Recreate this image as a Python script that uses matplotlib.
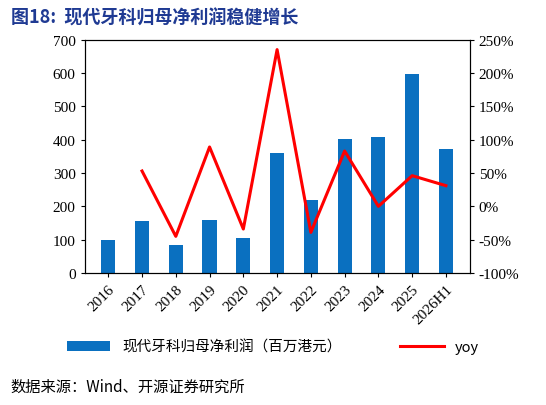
import matplotlib
matplotlib.use('Agg')
import matplotlib.pyplot as plt
from matplotlib.ticker import FuncFormatter

plt.rcParams['font.family'] = ['Times New Roman', 'Liberation Serif', 'Noto Sans CJK SC', 'DejaVu Sans']

years = ['2016', '2017', '2018', '2019', '2020', '2021', '2022', '2023', '2024', '2025', '2026H1']
profit = [100, 155, 85, 160, 105, 360, 220, 403, 407, 597, 373]
yoy = [None, 53, -45, 89, -34, 235, -39, 83, 0, 46, 31]

fig = plt.figure(figsize=(5.46, 4.06), dpi=100)
ax = fig.add_axes([0.155, 0.325, 0.705, 0.575])
x = list(range(len(years)))
bars = ax.bar(x, profit, width=0.42, color='#0A70C0', label='现代牙科归母净利润（百万港元）')
ax.set_ylim(0, 700)
ax.set_yticks(range(0, 701, 100))
ax.set_xlim(-0.7, len(years) - 0.3)
ax.set_xticks(x)
ax.set_xticklabels(years, rotation=45, ha='right', rotation_mode='anchor')
ax.tick_params(labelsize=11, length=3)

ax2 = ax.twinx()
xy = [i for i, v in zip(x, yoy) if v is not None]
vy = [v for v in yoy if v is not None]
line, = ax2.plot(xy, vy, color='#FF0000', lw=2.2, label='yoy')
ax2.set_ylim(-100, 250)
ax2.set_yticks(range(-100, 251, 50))
ax2.yaxis.set_major_formatter(FuncFormatter(lambda v, p: f'{int(v)}%'))
ax2.tick_params(labelsize=11, length=3)

fig.legend([bars, line], ['现代牙科归母净利润（百万港元）', 'yoy'], loc='center',
           bbox_to_anchor=(0.5, 0.143), ncol=2, frameon=False,
           prop={'family': ['Noto Sans CJK SC'], 'size': 10.5}, columnspacing=4,
           handlelength=3)

fig.text(0.02, 0.955, '图18:  现代牙科归母净利润稳健增长', fontsize=13, fontweight='bold',
         color='#1F3A93', family=['Noto Sans CJK SC'], va='center')
fig.text(0.02, 0.045, '数据来源：Wind、开源证券研究所', fontsize=11,
         family=['Noto Sans CJK SC'], va='center')

fig.savefig('out.png', dpi=100)
